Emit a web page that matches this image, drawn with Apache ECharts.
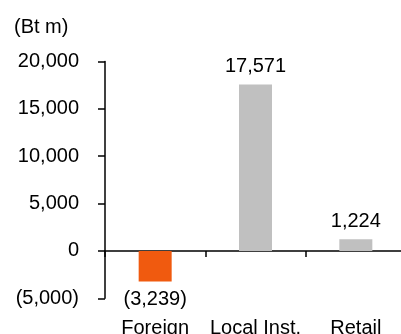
<!DOCTYPE html>
<html>
<head>
<meta charset="utf-8">
<script src="https://cdn.jsdelivr.net/npm/echarts@6/dist/echarts.min.js"></script>
<style>
  html, body { margin: 0; padding: 0; background: #fff; }
  #chart { width: 401px; height: 334px; }
</style>
</head>
<body>
<div id="chart"></div>
<script>
// Net trading by investor type (Bt m)
const categories = ['Foreign', 'Local Inst.', 'Retail'];
const netValues = [-3239, 17571, 1224];
const barColors = ['#F05A0F', '#C0C0C0', '#C0C0C0'];
const unitLabel = '(Bt m)';

const FONT = '"Liberation Sans", Arial, sans-serif';
const FS = 20;

function fmt(v) {
  const s = Math.abs(v).toLocaleString('en-US');
  return v < 0 ? '(' + s + ')' : s;
}

const chart = echarts.init(document.getElementById('chart'), null, { renderer: 'canvas' });

chart.setOption({
  animation: false,
  backgroundColor: '#ffffff',
  textStyle: { fontFamily: FONT },
  grid: {
    left: 105, right: -5, top: 61.4, bottom: 35.7,
    containLabel: false,
    outerBoundsMode: 'none'
  },
  graphic: [{
    type: 'text',
    x: 14, y: 27.5,
    style: { text: unitLabel, font: FS + 'px ' + FONT, fill: '#000', textVerticalAlign: 'middle' }
  }],
  xAxis: [
    {
      // zero line with boundary ticks
      type: 'category',
      data: categories,
      axisLine: { onZero: true, lineStyle: { color: '#000', width: 1.5 } },
      axisTick: { show: true, length: 6, lineStyle: { color: '#000', width: 1.5 } },
      axisLabel: { show: false },
      splitLine: { show: false }
    },
    {
      // category names along the bottom of the plot
      type: 'category',
      data: categories,
      position: 'bottom',
      axisLine: { show: false, onZero: false },
      axisTick: { show: false },
      axisLabel: { show: true, interval: 0, color: '#000', fontSize: FS, fontFamily: FONT, margin: 20 }
    }
  ],
  yAxis: {
    type: 'value',
    min: -5000, max: 20000, interval: 5000,
    axisLine: { show: true, lineStyle: { color: '#000', width: 1.5 } },
    axisTick: { show: true, length: 7, lineStyle: { color: '#000', width: 1.5 } },
    axisLabel: { color: '#000', fontSize: FS, fontFamily: FONT, margin: 26, formatter: fmt },
    splitLine: { show: false }
  },
  series: [{
    type: 'bar',
    xAxisIndex: 0,
    barWidth: 33,
    data: netValues.map((v, i) => ({
      value: v,
      itemStyle: { color: barColors[i] },
      label: { position: v < 0 ? 'bottom' : 'top' }
    })),
    label: {
      show: true,
      position: 'top',
      distance: 8,
      color: '#000',
      fontSize: FS,
      fontFamily: FONT,
      formatter: p => fmt(p.value)
    }
  }]
});
</script>
</body>
</html>
